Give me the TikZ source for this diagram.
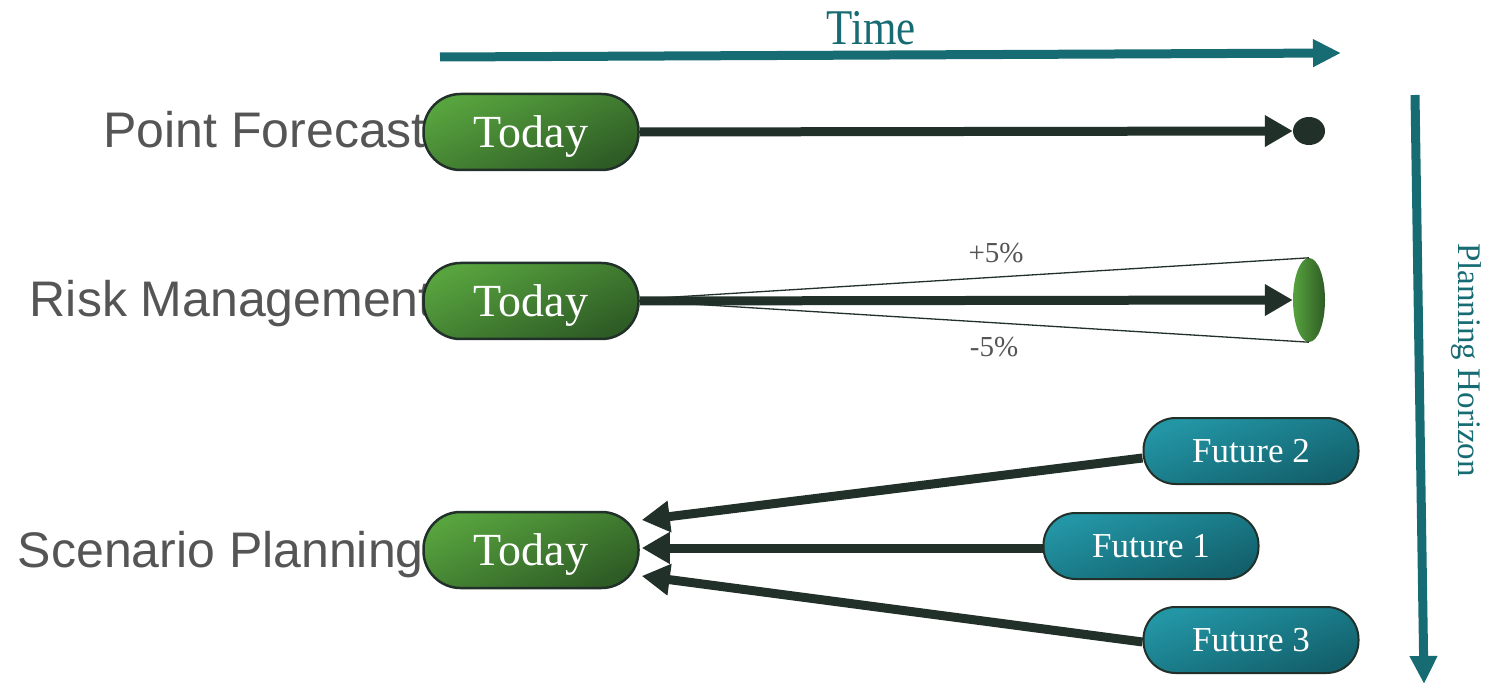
\documentclass[tikz,border=0pt]{standalone}
\usepackage{fontspec}
\setmainfont{Liberation Serif}
\newfontfamily\labelsans{Liberation Sans}
\usetikzlibrary{arrows.meta,shapes.geometric,calc}
\definecolor{tealc}{HTML}{176B73}
\definecolor{darkc}{HTML}{22302A}
\definecolor{greenL}{HTML}{57A33E}
\definecolor{greenD}{HTML}{2E5C25}
\definecolor{tealL}{HTML}{2396A6}
\definecolor{tealD}{HTML}{12606B}
\definecolor{grayc}{HTML}{555555}
\tikzset{
  todaybox/.style={draw=darkc, line width=2.5pt, top color=greenL, bottom color=greenD, shading angle=25,
    minimum width=215pt, minimum height=76pt, rounded corners=37pt, inner sep=0pt, text depth=0pt,
    text=white, font=\fontsize{46}{50}\selectfont},
  futurebox/.style={draw=darkc, line width=2pt, top color=tealL, bottom color=tealD, shading angle=20,
    minimum width=215pt, minimum height=66pt, rounded corners=32pt, inner sep=0pt,
    text=white, font=\fontsize{35}{40}\selectfont},
  rowlabel/.style={anchor=base east, text=grayc, inner sep=0pt, font=\labelsans\fontsize{50}{56}\selectfont},
  pct/.style={text=grayc, inner sep=0pt, font=\fontsize{29}{32}\selectfont},
  darkarrow/.style={draw=darkc, line width=9pt, -{Triangle[length=28pt,width=30pt]}},
  tealarrow/.style={draw=tealc, line width=9pt, -{Triangle[length=28pt,width=26pt]}},
  thinline/.style={draw=darkc, line width=1.3pt},
}
\begin{document}
\begin{tikzpicture}[x=1pt,y=-1pt]
\useasboundingbox (0,0) rectangle (1499,684);
% axes
\coordinate (ta) at (440,57);
\coordinate (tb) at (1341,53);
\draw[tealarrow] (ta) -- (tb);
\node[text=tealc, inner sep=0pt, xscale=0.86, font=\fontsize{50}{54}\selectfont] (time) at (871,28) {Time};
\coordinate (pa) at (1415,95);
\coordinate (pb) at (1424,684);
\draw[tealarrow] (pa) -- (pb);
\node[text=tealc, inner sep=0pt, rotate=-90, font=\fontsize{33}{36}\selectfont] (ph) at (1466,360) {Planning Horizon};
% row labels
\node[rowlabel] (l1) at (426,148) {Point Forecast};
\node[rowlabel] (l2) at (433,317) {Risk Management};
\node[rowlabel] (l3) at (424,567) {Scenario Planning};
% today nodes
\node[todaybox] (t1) at (531,132) {Today};
\node[todaybox] (t2) at (531,301) {Today};
\node[todaybox] (t3) at (531,550) {Today};
% row 1
\node[ellipse, fill=darkc, minimum width=32pt, minimum height=28pt, inner sep=0pt] (e1) at (1309,131) {};
\draw[darkarrow] (t1.east) -- (e1.west);
% row 2
\node[ellipse, left color=greenL, right color=greenD, minimum width=32pt, minimum height=84pt, inner sep=0pt] (e2) at (1309,300) {};
\draw[thinline] ($(t2.east)+(2,-2)$) -- (e2.north);
\draw[thinline] ($(t2.east)+(2,0)$) -- (e2.south);
\draw[darkarrow] (t2.east) -- (e2.west);
\node[pct] (p5) at (996,253) {+5\%};
\node[pct] (m5) at (994,347) {-5\%};
% row 3
\node[futurebox] (f2) at (1251,451) {Future 2};
\node[futurebox] (f1) at (1151,546) {Future 1};
\node[futurebox] (f3) at (1251,640) {Future 3};
\draw[darkarrow] ($(f2.west)+(0,7)$) -- ($(t3.east)+(2,-30)$);
\draw[darkarrow] ($(f1.west)+(0,2)$) -- ($(t3.east)+(2,-2)$);
\draw[darkarrow] ($(f3.west)+(0,2)$) -- ($(t3.east)+(2,26)$);
\end{tikzpicture}
\end{document}
